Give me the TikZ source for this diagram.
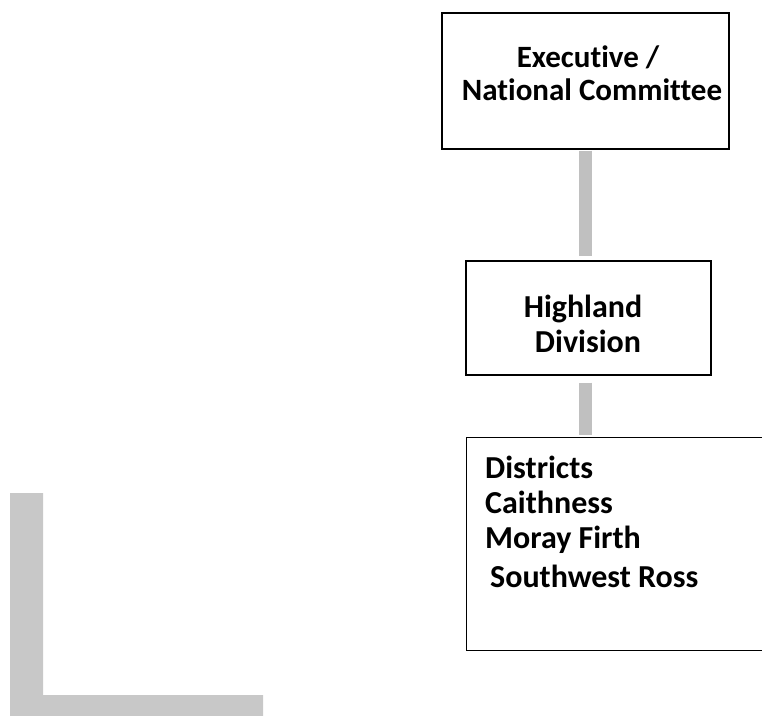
\documentclass[tikz,border=0pt]{standalone}
\usepackage{fontspec}
\setmainfont[Ligatures={NoCommon}]{Carlito}
\usetikzlibrary{calc}
\definecolor{linkgray}{RGB}{192,192,192}
\definecolor{lgray}{RGB}{200,200,200}
\begin{document}
\begin{tikzpicture}[x=1pt,y=-1pt,
  box/.style={draw=black, line width=1.4pt, rectangle, inner sep=0pt},
  link/.style={draw=linkgray, line width=13pt},
  txt/.style={font=\fontsize{32}{35}\selectfont\bfseries, inner sep=0pt},
  toptxt/.style={font=\fontsize{31}{35}\selectfont\bfseries, inner sep=0pt}]
\useasboundingbox (0,0) rectangle (762,715);
% boxes
\node[box, minimum width=287pt, minimum height=136pt] (exec) at (585.5,81) {};
\node[box, minimum width=245pt, minimum height=114pt] (high) at (588.5,318) {};
\begin{scope}
\clip (0,0) rectangle (762,715);
\node[box, minimum width=310pt, minimum height=213pt, anchor=north west] (dist) at (466,437) {};
\end{scope}
% texts
\node[toptxt, anchor=base] (execa) at (588,67) {Executive /};
\node[toptxt, anchor=base] (execb) at (592,100) {National Committee};
\node[txt, anchor=base] (higha) at (583,317) {Highland};
\node[txt, anchor=base] (highb) at (588,352) {Division};
\node[txt, anchor=base west] (d1) at (485,478) {Districts};
\node[txt, anchor=base west] (d2) at (485,513) {Caithness};
\node[txt, anchor=base west] (d3) at (485,548) {Moray Firth};
\node[txt, anchor=base west] (d4) at (490,587) {Southwest Ross};
% connectors
\draw[link, shorten <=1pt, shorten >=4pt] (exec.south) -- (exec.south |- high.north);
\draw[link, shorten <=7pt, shorten >=2pt] (exec.south |- high.south) -- (exec.south |- dist.north);
% L-shaped bar
\fill[lgray] (10,493) -- (43,493) -- (43,695) -- (263,695) -- (263,720) -- (10,720) -- cycle;
\end{tikzpicture}
\end{document}
